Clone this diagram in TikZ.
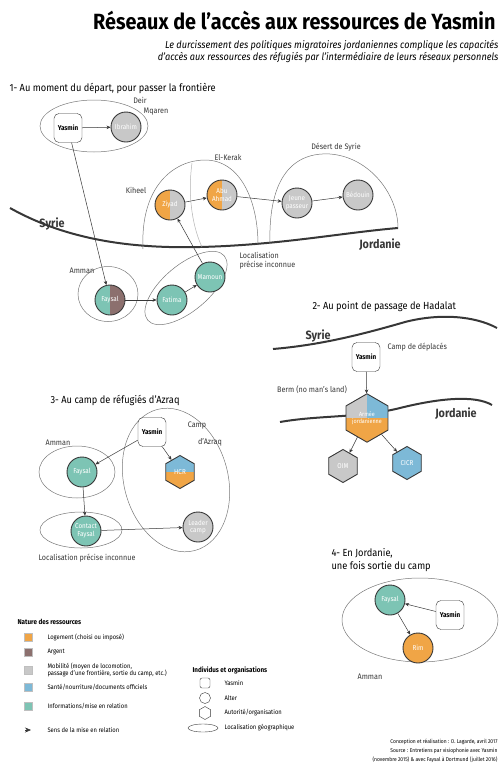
\documentclass[tikz,border=0pt]{standalone}
\usepackage{fontspec}
\setmainfont{Fira Sans}[FakeStretch=0.9]
\usepackage{tikz}
\usetikzlibrary{shapes.geometric, arrows.meta, positioning}
\definecolor{lodging}{RGB}{240,165,70}
\definecolor{money}{RGB}{140,112,110}
\definecolor{mobility}{RGB}{200,200,200}
\definecolor{health}{RGB}{125,185,215}
\definecolor{info}{RGB}{125,196,180}
\definecolor{darkgray}{RGB}{55,55,55}
\definecolor{placegray}{RGB}{120,120,120}

\begin{document}
\begin{tikzpicture}[x=1pt, y=-1pt,
    yasmin/.style={draw=darkgray, fill=white, rounded corners=5pt, minimum width=28pt, minimum height=29pt, inner sep=1pt, font=\fontsize{7}{8}\selectfont\bfseries},
    alter/.style={circle, draw=darkgray, line width=0.9pt, minimum size=30pt, inner sep=0pt, align=center, text=white, font=\fontsize{7}{7.5}\selectfont},
    orga/.style={regular polygon, regular polygon sides=6, shape border rotate=30, draw=darkgray, line width=0.9pt, minimum size=33pt, inner sep=0pt, align=center, text=white, font=\fontsize{7}{7.5}\selectfont},
    place/.style={ellipse, draw=placegray, line width=0.5pt, inner sep=0pt},
    halves/.style 2 args={path picture={
        \fill[#1] (path picture bounding box.south west) rectangle (path picture bounding box.north);
        \fill[#2] (path picture bounding box.south) rectangle (path picture bounding box.north east);}},
    tophalf/.style 2 args={path picture={
        \fill[#1] (path picture bounding box.north west) rectangle (path picture bounding box.east);
        \fill[#2] (path picture bounding box.west) rectangle (path picture bounding box.south east);}},
    link/.style={-{Stealth[length=4pt, width=3.5pt]}, darkgray, line width=0.5pt},
    border/.style={line width=2pt, darkgray},
    lbl/.style={font=\fontsize{8}{9}\selectfont, align=center, darkgray},
    country/.style={font=\fontsize{12}{14}\selectfont\bfseries, darkgray},
    heading/.style={font=\fontsize{10.3}{12.5}\selectfont, anchor=west, align=left},
    legend/.style={font=\fontsize{6.5}{7.5}\selectfont, anchor=west, align=left},
    swatch/.style={draw=black!25, minimum size=8pt, inner sep=0pt},
]
    \useasboundingbox (0,0) rectangle (503,764);

    % Title
    \node[anchor=east, font=\fontsize{22}{26}\selectfont\bfseries] (title) at (499,20) {Réseaux de l’accès aux ressources de Yasmin};
    \node[anchor=north east, align=right, font=\fontsize{10.2}{12}\selectfont\itshape] (subtitle) at (502,37) {Le durcissement des politiques migratoires jordaniennes complique les capacités\\d’accès aux ressources des réfugiés par l’intermédiaire de leurs réseaux personnels};

    % 1- Au moment du départ
    \node[heading] (h1) at (6,88) {1- Au moment du départ, pour passer la frontière};
    \draw[border] (10,208) .. controls (60,236) and (120,249) .. (200,247) .. controls (280,245) and (340,233) .. (398,228);
    \node[country] (syrie1) at (52,224) {Syrie};
    \node[country] (jordanie1) at (380,245) {Jordanie};
    \node[place, minimum width=108pt, minimum height=52pt] (deir) at (94,126) {};
    \node[lbl] (deirlbl) at (140,100) {Deir};
    \node[lbl] (mqarenlbl) at (156,112) {Mqaren};
    \draw[placegray, line width=0.5pt] (143,249) .. controls (140,185) and (175,160) .. (205,160) .. controls (240,160) and (258,200) .. (258,245);
    \draw[black!30, line width=0.5pt] (192,163) .. controls (187,200) and (194,230) .. (202,247);
    \draw[placegray, line width=0.5pt] (270,244) .. controls (268,175) and (295,152) .. (330,154) .. controls (370,157) and (398,195) .. (398,228);
    \node[lbl] (kiheellbl) at (136,190) {Kiheel};
    \node[lbl] (keraklbl) at (228,158) {El-Kerak};
    \node[lbl] (desertlbl) at (336,147) {Désert de Syrie};
    \node[place, minimum width=60pt, minimum height=55pt] (amman1) at (108,294) {};
    \node[place, minimum width=100pt, minimum height=46pt, rotate=40] (inconnu1) at (186,288) {};
    \node[lbl] (amman1lbl) at (82,271) {Amman};
    \node[lbl, anchor=north west, align=left] (inconnu1lbl) at (236,249) {Localisation\\précise inconnue};

    \node[yasmin] (yasmin1) at (68,128) {Yasmin};
    \node[alter, fill=mobility] (ibrahim) at (126,127) {Ibrahim};
    \node[alter, halves={lodging}{mobility}] (ziyad) at (170,205) {Ziyad};
    \node[alter, halves={lodging}{mobility}] (abuahmad) at (222,195) {Abu\\Ahmad};
    \node[alter, fill=mobility] (passeur) at (297,203) {Jeune\\passeur};
    \node[alter, fill=mobility] (bedouin) at (358,195) {Bédouin};
    \node[alter, halves={info}{money}] (faysal1) at (110,300) {Faysal};
    \node[alter, fill=info] (fatima) at (172,300) {Fatima};
    \node[alter, fill=info] (mamoun) at (210,277) {Mamoun};

    \draw[link] (yasmin1) -- (ibrahim);
    \draw[link] (yasmin1) -- (faysal1);
    \draw[link] (faysal1) -- (fatima);
    \draw[link] (fatima) -- (mamoun);
    \draw[link] (mamoun) -- (ziyad);
    \draw[link] (ziyad) -- (abuahmad);
    \draw[link] (abuahmad) -- (passeur);
    \draw[link] (passeur) -- (bedouin);

    % 2- Au point de passage de Hadalat
    \node[heading] (h2) at (309,307) {2- Au point de passage de Hadalat};
    \draw[border] (273,349) .. controls (320,345) and (360,335) .. (405,322) .. controls (440,313) and (475,316) .. (497,328);
    \draw[border] (280,422) .. controls (320,415) and (360,418) .. (400,408) .. controls (440,398) and (475,395) .. (492,405);
    \node[country] (syrie2) at (318,336) {Syrie};
    \node[country] (jordanie2) at (456,414) {Jordanie};
    \node[lbl, anchor=west] (camplbl) at (384,347) {Camp de déplacés};
    \node[lbl] (bermlbl) at (312,390) {Berm (no man’s land)};

    \node[yasmin] (yasmin2) at (366,357) {Yasmin};
    \node[orga, font=\fontsize{6}{6.5}\selectfont, path picture={
        \fill[mobility] (path picture bounding box.north west) rectangle (path picture bounding box.center);
        \fill[health] (path picture bounding box.north) rectangle (path picture bounding box.east);
        \fill[lodging] (path picture bounding box.west) rectangle (path picture bounding box.south east);}] (armee) at (367,418) {Armée\\jordanienne};
    \node[orga, fill=mobility] (oim) at (343,466) {OIM};
    \node[orga, fill=health] (cicr) at (407,463) {CICR};

    \draw[link] (yasmin2) -- (armee);
    \draw[link] (armee) -- (oim);
    \draw[link] (armee) -- (cicr);

    % 3- Au camp de réfugiés d'Azraq
    \node[heading] (h3) at (47,400) {3- Au camp de réfugiés d’Azraq};
    \node[place, minimum width=104pt, minimum height=146pt, rotate=15] (azraq) at (176,480) {};
    \node[lbl] (azraqlbl) at (197,426) {Camp};
    \node[lbl] (azraqlbl2) at (210,442) {d’Azraq};
    \node[place, minimum width=76pt, minimum height=52pt] (amman3) at (77,472) {};
    \node[lbl] (amman3lbl) at (58,443) {Amman};
    \node[place, minimum width=82pt, minimum height=36pt] (inconnu3) at (81,530) {};
    \node[lbl] (inconnu3lbl) at (87,558) {Localisation précise inconnue};

    \node[yasmin] (yasmin3) at (152,432) {Yasmin};
    \node[orga, tophalf={health}{lodging}] (hcr) at (180,472) {HCR};
    \node[alter, fill=info] (faysal3) at (82,472) {Faysal};
    \node[alter, fill=info] (contact) at (86,531) {Contact\\Faysal};
    \node[alter, fill=mobility] (leader) at (198,527) {Leader\\camp};

    \draw[link] (yasmin3) -- (faysal3);
    \draw[link] (yasmin3) -- (hcr);
    \draw[link] (faysal3) -- (contact);
    \draw[link] (contact) -- (leader);

    % 4- En Jordanie
    \node[heading, anchor=north west] (h4) at (328,545) {4- En Jordanie,\\une fois sortie du camp};
    \node[place, minimum width=156pt, minimum height=84pt] (amman4) at (420,620) {};
    \node[lbl] (amman4lbl) at (370,677) {Amman};

    \node[alter, fill=info] (faysal4) at (390,600) {Faysal};
    \node[yasmin] (yasmin4) at (450,615) {Yasmin};
    \node[alter, fill=lodging] (rim) at (418,648) {Rim};

    \draw[link] (yasmin4) -- (faysal4);
    \draw[link] (faysal4) -- (rim);

    % Legend - resources
    \node[legend, font=\fontsize{7}{8}\selectfont\bfseries] (natlbl) at (14,622) {Nature des ressources};
    \node[swatch, fill=lodging] (sw1) at (28,637) {};
    \node[swatch, fill=money] (sw2) at (28,652) {};
    \node[swatch, fill=mobility] (sw3) at (28,670) {};
    \node[swatch, fill=health] (sw4) at (28,687) {};
    \node[swatch, fill=info] (sw5) at (28,706) {};
    \node[legend] (sw1lbl) at (44,637) {Logement (choisi ou imposé)};
    \node[legend] (sw2lbl) at (44,652) {Argent};
    \node[legend] (sw3lbl) at (44,670) {Mobilité (moyen de locomotion,\\passage d’une frontière, sortie du camp, etc.)};
    \node[legend] (sw4lbl) at (44,687) {Santé/nourriture/documents officiels};
    \node[legend] (sw5lbl) at (44,706) {Informations/mise en relation};
    \coordinate (tipa) at (25,730);
    \coordinate (tipb) at (31,730);
    \draw[darkgray, -{Stealth[length=6pt, width=5pt]}] (tipa) -- (tipb);
    \node[legend] (senslbl) at (44,730) {Sens de la mise en relation};

    % Legend - individuals
    \node[legend, font=\fontsize{7}{8}\selectfont\bfseries] (indlbl) at (189,670) {Individus et organisations};
    \node[draw=darkgray, rounded corners=2pt, minimum size=10pt, inner sep=0pt, line width=0.4pt] (lgyasmin) at (205,683) {};
    \node[circle, draw=darkgray, minimum size=11pt, inner sep=0pt, line width=0.4pt] (lgalter) at (205,698) {};
    \node[regular polygon, regular polygon sides=6, shape border rotate=30, draw=darkgray, minimum size=13pt, inner sep=0pt, line width=0.4pt] (lgorga) at (205,713) {};
    \node[ellipse, draw=darkgray, minimum width=30pt, minimum height=8pt, inner sep=0pt, line width=0.4pt] (lgplace) at (203,728) {};
    \node[legend] (lgyasminlbl) at (221,683) {Yasmin};
    \node[legend] (lgalterlbl) at (221,698) {Alter};
    \node[legend] (lgorgalbl) at (221,713) {Autorité/organisation};
    \node[legend] (lgplacelbl) at (221,728) {Localisation géographique};

    % Credits
    \node[anchor=north east, align=right, font=\fontsize{5.5}{9}\selectfont] (credits) at (501,736) {Conception et réalisation : O. Lagarde, avril 2017\\Source : Entretiens par visiophonie avec Yasmin\\(novembre 2015) \& avec Faysal à Dortmund (juillet 2016)};

\end{tikzpicture}
\end{document}
